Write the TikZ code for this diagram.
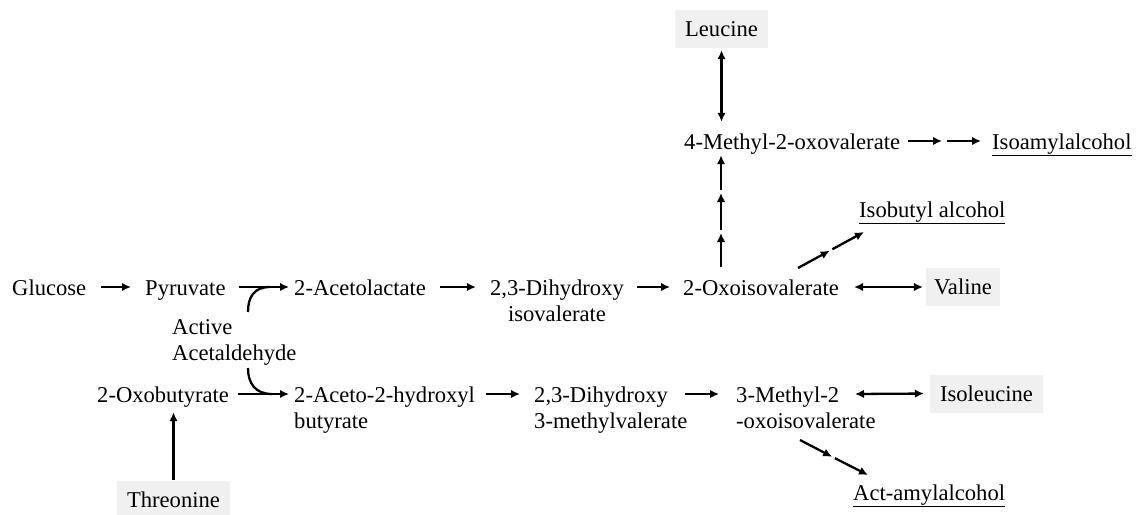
\documentclass[tikz,border=0pt]{standalone}
\usepackage{fontspec}
\setmainfont{Liberation Serif}
\usetikzlibrary{arrows.meta,calc}
\definecolor{boxgray}{RGB}{240,240,240}
\newcommand\lft[1]{\begin{tabular}[t]{@{}l@{}}#1\end{tabular}}
\newcommand\ctr[1]{\begin{tabular}[t]{@{}c@{}}#1\end{tabular}}
\begin{document}
\begin{tikzpicture}[x=1pt,y=-1pt,
  every node/.style={inner sep=0pt, font=\fontsize{22.6}{26}\selectfont},
  txt/.style={text height=17pt, text depth=1pt, anchor=base west},
  box/.style={fill=boxgray, text height=15pt, text depth=0pt, minimum height=38pt, inner xsep=10pt, anchor=center},
  line/.style={line width=2.3pt},
  arr/.style={line width=2.3pt, -{Latex[length=9pt,width=8.5pt]}},
  darr/.style={line width=2.3pt, {Latex[length=9pt,width=8.5pt]}-{Latex[length=9pt,width=8.5pt]}},
]
\useasboundingbox (0,0) rectangle (1137,514);

% nodes
\node[txt] (glu) at (12,295) {Glucose};
\node[txt] (pyr) at (145,295) {Pyruvate};
\node[txt] (acl) at (294,295) {2-Acetolactate};
\node[txt, anchor=base] (dhi) at (557,295) {\ctr{2,3-Dihydroxy\\isovalerate}};
\node[txt] (oxi) at (683,295) {2-Oxoisovalerate};
\node[box, inner xsep=8pt] (val) at (963,287) {Valine};
\node[txt] (meth) at (684,149) {4-Methyl-2-oxovalerate};
\node[txt] (isoa) at (992,149) {\underline{Isoamylalcohol}};
\node[box] (leu) at (721.5,29) {Leucine};
\node[txt] (ibu) at (859,217) {\underline{Isobutyl alcohol}};
\node[txt] (aa) at (172,334) {\lft{Active\\Acetaldehyde}};
\node[txt] (oxb) at (97,402) {2-Oxobutyrate};
\node[txt] (ahb) at (294,402) {\lft{2-Aceto-2-hydroxyl\\butyrate}};
\node[txt] (dmv) at (534,402) {\lft{2,3-Dihydroxy\\3-methylvalerate}};
\node[txt] (mox) at (736,402) {\lft{3-Methyl-2\\-oxoisovalerate}};
\node[box] (ile) at (986.5,393.5) {Isoleucine};
\node[box] (thr) at (173.5,500) {Threonine};
\node[txt] (act) at (853,500) {\underline{Act-amylalcohol}};

% helper coordinates
\coordinate (s1) at (721,231.5);
\coordinate (s2) at (721,191.5);
\coordinate (ia) at (944.5,141);
\coordinate (ib0) at (798,268);
\coordinate (ib1) at (831,250);
\coordinate (ib2) at (864,232);
\coordinate (am0) at (800,440);
\coordinate (am1) at (833.5,457.5);
\coordinate (am2) at (868,475);
\coordinate (aat) at (248,312);
\coordinate (aab) at (248,368);
\coordinate (jt) at (270,287);
\coordinate (jb) at (272,394);

% row 1
\draw[arr, shorten <=15pt, shorten >=14pt] (glu) -- (pyr);
\draw[arr, shorten <=13pt, shorten >=5pt] (pyr) -- (acl);
\draw[arr, shorten <=14pt, shorten >=14pt] (acl) -- (dhi);
\draw[arr, shorten <=13pt, shorten >=13pt] (dhi) -- (oxi);
\draw[darr, shorten <=15pt, shorten >=3pt] (oxi) -- (val);

% up to leucine branch
\draw[arr, shorten <=11pt, shorten >=1.5pt] (oxi.north -| s1) -- (s1);
\draw[arr, shorten <=1.5pt, shorten >=1.5pt] (s1) -- (s2);
\draw[arr, shorten <=1.5pt, shorten >=5pt] (s2) -- (s2 |- meth.south);
\draw[darr, shorten <=2pt, shorten >=10pt] (leu.south) -- (leu.south |- meth.north);
\draw[arr, shorten <=8pt, shorten >=2.5pt] (meth.east) -- (ia);
\draw[arr, shorten <=2.5pt, shorten >=11pt] (ia) -- (isoa.west |- ia);

% isobutyl
\draw[arr, shorten >=1.5pt] (ib0) -- (ib1);
\draw[arr, shorten <=1.5pt] (ib1) -- (ib2);

% active acetaldehyde joins
\draw[line] (aat) .. controls (248,297) and (254,287) .. (jt);
\draw[line] (aab) .. controls (248,383) and (255,394) .. (jb);

% row 2
\draw[arr, shorten <=9pt, shorten >=5pt] (oxb) -- (ahb);
\draw[arr, shorten <=11pt, shorten >=14pt] (ahb) -- (dmv);
\draw[arr, shorten >=17pt] ([xshift=151pt]dmv.west) -- (mox.west);
\draw[darr, shorten >=6pt] ([xshift=119pt]mox.west) -- (ile.west);
\draw[arr, shorten <=1pt, shorten >=9pt] (thr.north) -- (thr.north |- oxb.south);

% act-amyl
\draw[arr, shorten >=1.5pt] (am0) -- (am1);
\draw[arr, shorten <=1.5pt] (am1) -- (am2);
\end{tikzpicture}
\end{document}
